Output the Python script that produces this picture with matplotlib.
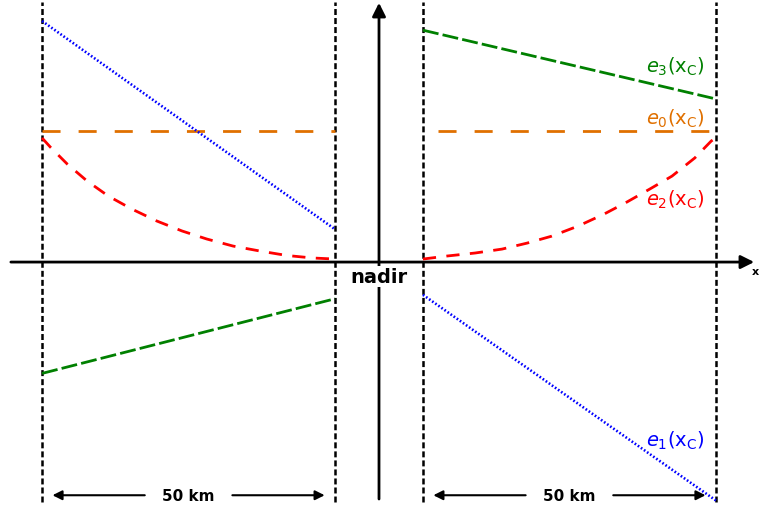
import matplotlib
matplotlib.use("Agg")
import matplotlib.pyplot as plt
from matplotlib.patches import FancyArrowPatch

plt.rcParams['lines.scale_dashes'] = False
plt.rcParams['mathtext.fontset'] = 'dejavusans'

# ---- data (x in km across track, y normalised so that e0 = 1) ----
swath_left = [-57.5, -7.5]
swath_right = [7.5, 57.5]

e0_left_x = [-57.5, -7.5]
e0_left = [1.0, 1.0]
e0_right_x = [10.0, 57.5]
e0_right = [1.0, 1.0]

e1_left_x = [-57.5, -7.5]
e1_left = [1.84, 0.25]
e1_right_x = [7.5, 57.5]
e1_right = [-0.25, -1.82]

e3_left_x = [-57.5, -7.5]
e3_left = [-0.85, -0.28]
e3_right_x = [7.5, 57.5]
e3_right = [1.77, 1.245]

e2_left_x = [-57.5, -56.1, -53.2, -49.8, -46.2, -42.2, -37.9, -33.6,
             -29.4, -24.9, -20.3, -15.7, -11.3, -7.5]
e2_left = [0.947, 0.878, 0.748, 0.618, 0.504, 0.405, 0.313, 0.237,
           0.176, 0.122, 0.084, 0.050, 0.031, 0.023]
e2_right_x = [7.5, 11.6, 16.4, 21.0, 25.3, 29.5, 34.0, 38.4, 42.3,
              46.2, 50.0, 53.9, 56.7, 57.5]
e2_right = [0.023, 0.046, 0.069, 0.099, 0.145, 0.198, 0.275, 0.366,
            0.458, 0.557, 0.656, 0.795, 0.924, 0.947]

labels = [r'$e_3(\mathrm{x}_\mathrm{C})$', r'$e_0(\mathrm{x}_\mathrm{C})$',
          r'$e_2(\mathrm{x}_\mathrm{C})$', r'$e_1(\mathrm{x}_\mathrm{C})$']
label_y = [1.50, 1.10, 0.48, -1.36]
label_colors = ['green', '#E07000', 'red', 'blue']

# ---- figure ----
fig = plt.figure(figsize=(7.59, 5.10), dpi=100)
ax = fig.add_axes([0, 0, 1, 1])
ax.set_xlim(-64.68, 64.85)
ax.set_ylim(-1.885, 2.008)
ax.axis('off')

# dashed swath borders
for xv in swath_left + swath_right:
    ax.plot([xv, xv], [-1.83, 1.985], color='black', lw=1.8,
            dashes=(4.3, 2.2), zorder=2)

# axes with arrows
ax.add_patch(FancyArrowPatch((-63.3, 0), (64.5, 0), arrowstyle='-|>',
                             mutation_scale=20, lw=2, color='black', zorder=3))
ax.add_patch(FancyArrowPatch((0, -1.83), (0, 2.0), arrowstyle='-|>',
                             mutation_scale=20, lw=2, color='black', zorder=3))

# curves
ax.plot(e0_left_x, e0_left, color='#E07000', lw=2.0, dashes=(13, 13), zorder=4)
ax.plot(e0_right_x, e0_right, color='#E07000', lw=2.0, dashes=(13, 13), zorder=4)
ax.plot(e1_left_x, e1_left, color='blue', lw=1.9, dashes=(1.2, 1.5), zorder=4)
ax.plot(e1_right_x, e1_right, color='blue', lw=1.9, dashes=(1.2, 1.5), zorder=4)
ax.plot(e2_left_x, e2_left, color='red', lw=2.0, dashes=(9.5, 7.5), zorder=4)
ax.plot(e2_right_x, e2_right, color='red', lw=2.0, dashes=(9.5, 7.5), zorder=4)
ax.plot(e3_left_x, e3_left, color='green', lw=2.0, dashes=(11.5, 3), zorder=4)
ax.plot(e3_right_x, e3_right, color='green', lw=2.0, dashes=(11.5, 3), zorder=4)

# labels
for lab, yv, c in zip(labels, label_y, label_colors):
    ax.text(55.6, yv, lab, color=c, fontsize=14, ha='right', va='center', zorder=5)

ax.text(0, -0.11, 'nadir', fontsize=14, fontweight='bold', ha='center',
        va='center', zorder=6,
        bbox=dict(facecolor='white', edgecolor='none', pad=1.0))
ax.text(64.2, -0.07, 'x', fontsize=8, fontweight='bold', ha='center', va='center')

# 50 km arrows
ya = -1.78
for (a, b) in [(swath_left[0], swath_left[1]), (swath_right[0], swath_right[1])]:
    mid = 0.5 * (a + b)
    ax.text(mid, ya, '50 km', fontsize=11, fontweight='bold', ha='center',
            va='center', zorder=6)
    ax.add_patch(FancyArrowPatch((mid - 7.0, ya), (a + 1.3, ya), arrowstyle='-|>',
                                 mutation_scale=14, lw=1.5, color='black'))
    ax.add_patch(FancyArrowPatch((mid + 7.0, ya), (b - 1.3, ya), arrowstyle='-|>',
                                 mutation_scale=14, lw=1.5, color='black'))

fig.savefig('out.png', dpi=100)
